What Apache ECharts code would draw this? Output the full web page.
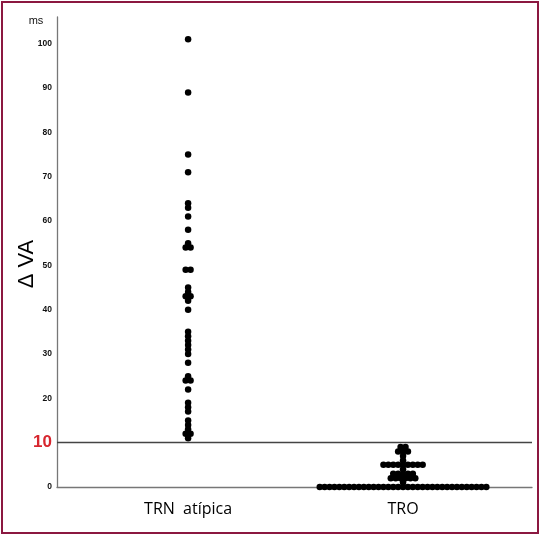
<!DOCTYPE html>
<html>
<head>
<meta charset="utf-8">
<script src="https://cdn.jsdelivr.net/npm/echarts@6/dist/echarts.min.js"></script>
<style>
html,body{margin:0;padding:0;background:#fff;}
#c{width:542px;height:537px;}
</style>
</head>
<body>
<div id="c"></div>
<script>
// ---- data ----
var categories = ['TRN  atípica', 'TRO'];
var yTicks = [0, 10, 20, 30, 40, 50, 60, 70, 80, 90, 100];
var threshold = 10;
// TRN atípica: individual ΔVA values (ms)
var trnValues = [101, 89, 75, 71, 64, 63, 61, 58, 55, 54, 54, 49, 49, 45, 44, 43, 43, 42, 40,
                 35, 34, 33, 32, 31, 30, 28, 25, 24, 24, 22, 19, 18, 17, 15, 14, 13, 12, 12, 11];
// TRO: ΔVA levels and number of patients at each level
var troLevels = [0, 1, 2, 3, 4, 5, 6, 7, 8, 9];
var troCounts = [35, 1, 6, 5, 1, 9, 1, 1, 3, 2];

// ---- build dot-plot points (identical values laid side by side) ----
var SPACING = 4.9;
function swarm(values, xPos) {
  var groups = {};
  values.forEach(function (v) { (groups[v] = groups[v] || []).push(v); });
  var pts = [];
  Object.keys(groups).forEach(function (k) {
    var g = groups[k], n = g.length;
    g.forEach(function (v, i) {
      pts.push({ value: [xPos, v], symbolOffset: [(i - (n - 1) / 2) * SPACING, 0] });
    });
  });
  return pts;
}
var troValues = [];
troLevels.forEach(function (lv, i) { for (var k = 0; k < troCounts[i]; k++) troValues.push(lv); });

var chart = echarts.init(document.getElementById('c'), null, { renderer: 'canvas' });
var dotStyle = { color: '#000', opacity: 1 };
chart.setOption({
  animation: false,
  backgroundColor: '#fff',
  grid: { left: 57, right: 10, top: 17, bottom: 50, containLabel: false },
  xAxis: {
    type: 'value', min: 0.39, max: 2.6,
    axisLine: { show: true, lineStyle: { color: '#777', width: 1.3 } },
    axisTick: { show: false },
    splitLine: { show: false },
    axisLabel: {
      customValues: [1, 2],
      formatter: function (v) { return categories[Math.round(v) - 1] || ''; },
      margin: 14,
      fontFamily: 'Open Sans', fontSize: 16, color: '#000'
    }
  },
  yAxis: {
    type: 'value', min: 0, max: 106, interval: 10,
    axisLine: { show: true, lineStyle: { color: '#777', width: 1.3 } },
    axisTick: { show: false },
    splitLine: { show: false },
    axisLabel: {
      margin: 5,
      customValues: yTicks,
      formatter: function (v) {
        if (v === threshold) return '{red|' + v + '}';
        return yTicks.indexOf(v) >= 0 ? '{n|' + v + '}' : '';
      },
      rich: {
        n: { fontFamily: 'Liberation Sans', fontSize: 8.5, fontWeight: 'bold', color: '#111' },
        red: { fontFamily: 'Liberation Sans', fontSize: 17, fontWeight: 'bold', color: '#d7262e' }
      }
    }
  },
  series: [
    {
      type: 'scatter', symbol: 'circle', symbolSize: 6.5, clip: false,
      itemStyle: dotStyle,
      data: swarm(trnValues, 1),
      markLine: {
        silent: true, symbol: ['none', 'none'],
        label: { show: false },
        lineStyle: { color: '#444', width: 1.4, type: 'solid' },
        data: [{ yAxis: threshold }]
      }
    },
    {
      type: 'scatter', symbol: 'circle', symbolSize: 6.5, clip: false,
      itemStyle: dotStyle,
      data: swarm(troValues, 2)
    }
  ],
  graphic: [
    { type: 'rect', shape: { x: 2, y: 2, width: 536, height: 531 },
      style: { fill: 'none', stroke: '#8b1840', lineWidth: 2 }, silent: true },
    { type: 'text', x: 36, y: 21,
      style: { text: 'ms', fontFamily: 'Liberation Sans', fontSize: 11, fill: '#111', align: 'center', verticalAlign: 'middle' } },
    { type: 'text', x: 27, y: 264, rotation: Math.PI / 2,
      style: { text: 'Δ VA', fontFamily: 'Liberation Sans', fontSize: 22, fill: '#000', align: 'center', verticalAlign: 'middle' } }
  ]
});
</script>
</body>
</html>
